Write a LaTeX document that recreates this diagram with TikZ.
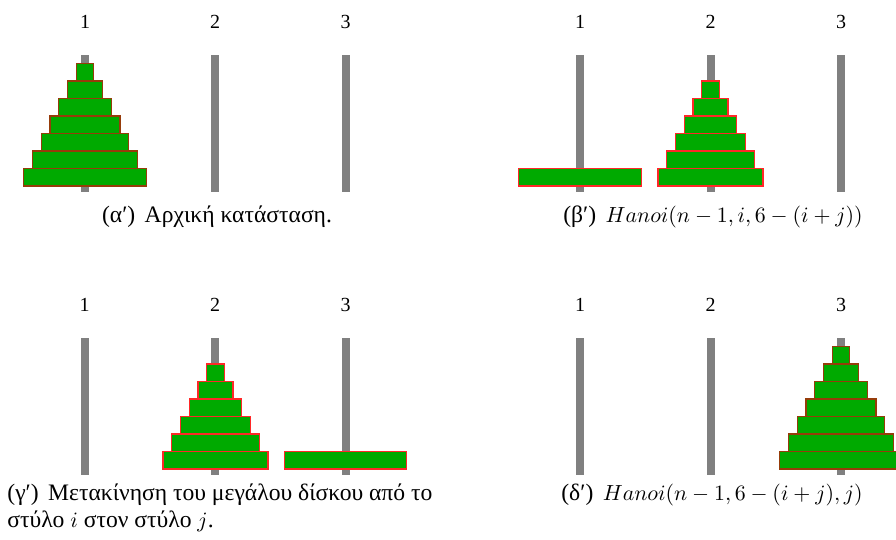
\documentclass[tikz,border=0pt]{standalone}
\usepackage{fontspec}
\newfontfamily\grk{Liberation Serif}
\definecolor{pegc}{RGB}{128,128,128}
\definecolor{diskg}{RGB}{0,170,0}
\definecolor{edgeA}{RGB}{150,60,10}
\definecolor{edgeB}{RGB}{255,40,40}
\newcommand\mypeg[2]{\fill[peg] ({#1-4},{#2+55}) rectangle ({#1+4},{#2+192});}
\newcommand\mydisk[4]{\filldraw[disk,draw=#4] ({#1-8.75*(#3)},{#2}) rectangle ({#1+8.75*(#3)},{#2-17.5});}
\newcommand\gt[1]{{\grk\fontsize{11.8}{13}\selectfont #1}}
\begin{document}
\begin{tikzpicture}[x=0.5pt,y=-0.5pt,
  peg/.style={fill=pegc,draw=none},
  disk/.style={fill=diskg,line width=0.6pt},
  pnum/.style={font=\grk\fontsize{10}{12}\selectfont,inner sep=0pt},
  captxt/.style={font=\fontsize{10.8}{13}\selectfont,inner sep=0pt}]
\clip (0,0) rectangle (896,540);
% top-left panel
\foreach \x/\l [count=\i] in {85/1,215/2,345.5/3} {
  \node[pnum] (la\i) at (\x,22) {\l};
  \mypeg{\x}{0}
}
\foreach \n in {0,...,6} { \mydisk{85}{186-17.5*\n}{7-\n}{edgeA} }
% top-right panel
\foreach \x/\l [count=\i] in {580/1,710.5/2,841/3} {
  \node[pnum] (lb\i) at (\x,22) {\l};
  \mypeg{\x}{0}
}
\mydisk{580}{186}{7}{edgeB}
\foreach \n in {0,...,5} { \mydisk{710.5}{186-17.5*\n}{6-\n}{edgeB} }
% bottom-left panel
\foreach \x/\l [count=\i] in {84.5/1,215/2,345.5/3} {
  \node[pnum] (lc\i) at (\x,305) {\l};
  \mypeg{\x}{283}
}
\foreach \n in {0,...,5} { \mydisk{215.5}{469-17.5*\n}{6-\n}{edgeB} }
\mydisk{345.5}{469}{7}{edgeB}
% bottom-right panel
\foreach \x/\l [count=\i] in {580/1,710.5/2,841/3} {
  \node[pnum] (ld\i) at (\x,305) {\l};
  \mypeg{\x}{283}
}
\foreach \n in {0,...,6} { \mydisk{841}{469-17.5*\n}{7-\n}{edgeA} }
% captions
\node[captxt,anchor=base] (capa) at (217,223) {\gt{(α′)\hspace{0.4em}Αρχική κατάσταση.}};
\node[captxt,anchor=base] (capb) at (713,223) {\gt{(β′)\hspace{0.4em}}$Hanoi(n-1,i,6-(i+j))$};
\node[captxt,anchor=base west] (capc1) at (7,501) {\gt{(γ′)\hspace{0.4em}Μετακίνηση του μεγάλου δίσκου από το}};
\node[captxt,anchor=base west] (capc2) at (7,527) {\gt{στύλο }$i$\gt{ στον στύλο }$j$\gt{.}};
\node[captxt,anchor=base] (capd) at (712,501) {\gt{(δ′)\hspace{0.4em}}$Hanoi(n-1,6-(i+j),j)$};
\end{tikzpicture}
\end{document}
